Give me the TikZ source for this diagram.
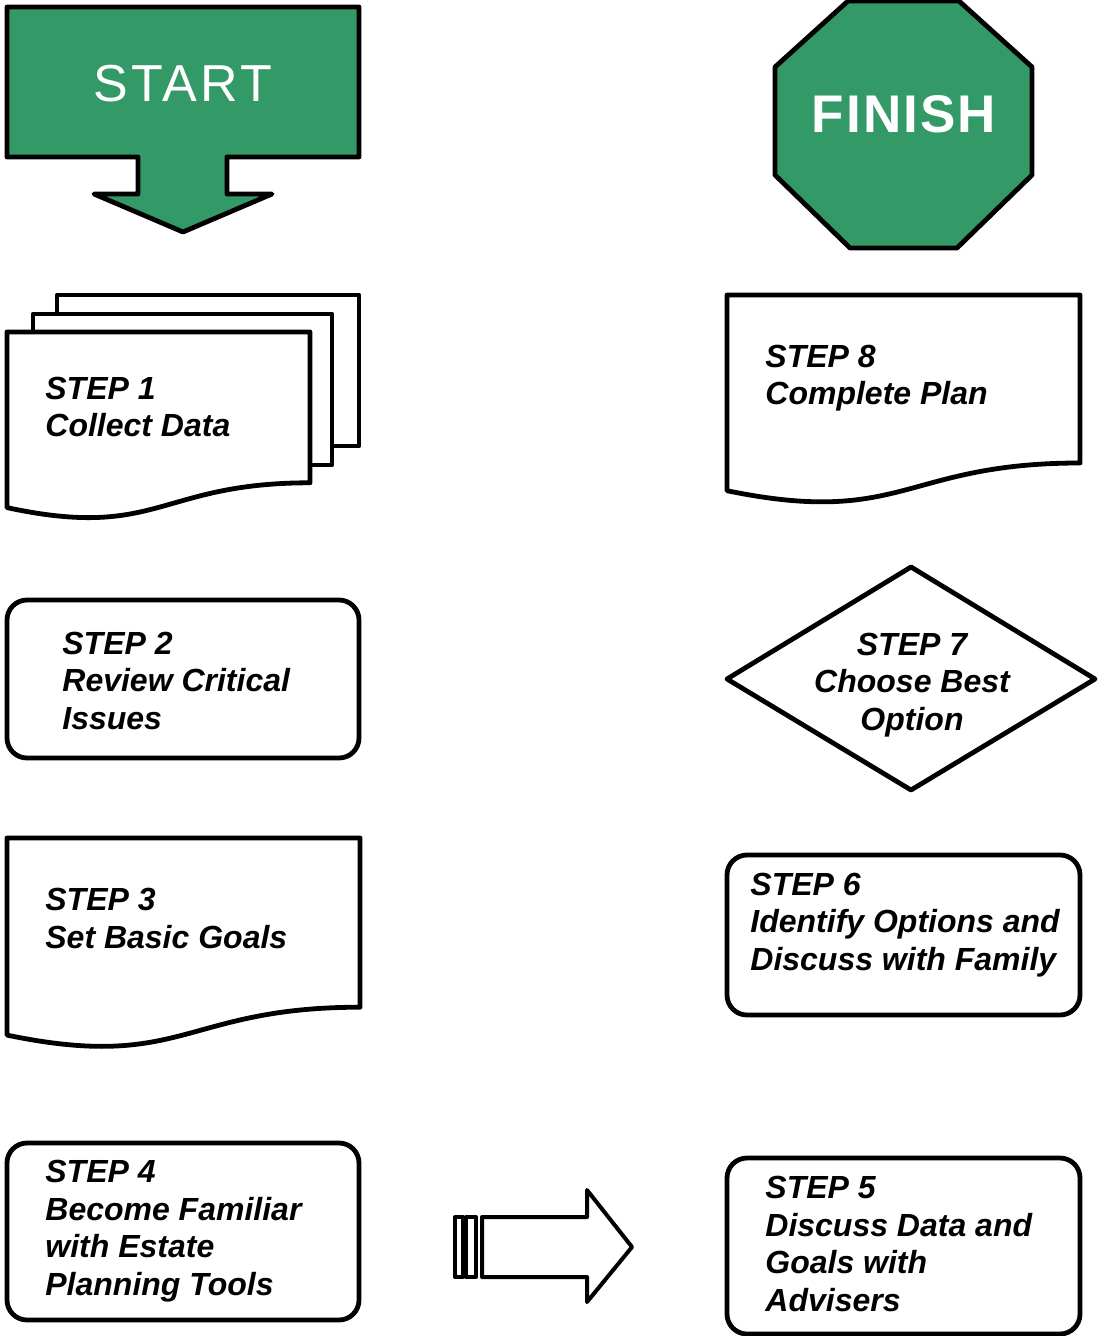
\documentclass[tikz,border=0pt]{standalone}
\usepackage{fontspec}
\setmainfont{Liberation Sans}
\definecolor{stepgreen}{RGB}{51,153,102}
\begin{document}
\begin{tikzpicture}[x=0.5pt,y=-0.5pt,
  outline/.style={draw=black,line width=2.4pt,line join=round,fill=white},
  greenshape/.style={draw=black,line width=2.4pt,line join=round,fill=stepgreen},
  roundbox/.style={outline,rounded corners=10pt},
  steptext/.style={font=\fontsize{16}{18.75}\selectfont\bfseries\itshape,align=left,inner sep=0pt,anchor=base west},
  steptextc/.style={steptext,align=center,anchor=base}]
\useasboundingbox (0,0) rectangle (1097,1336);

% START arrow
\draw[greenshape] (7,7) -- (359,7) -- (359,157) -- (227,157) -- (227,194) -- (272,194)
  -- (183,232) -- (94,194) -- (138,194) -- (138,157) -- (7,157) -- cycle;
\node[text=white,font=\fontsize{26}{30}\selectfont\addfontfeatures{LetterSpace=6},inner sep=0pt,anchor=base] (start) at (183,102) {START};

% FINISH octagon
\draw[greenshape] (848,1) -- (959,1) -- (1032,67) -- (1032,175) -- (957,248) -- (850,248)
  -- (775,175) -- (775,67) -- cycle;
\node[text=white,font=\fontsize{26.5}{30}\selectfont\bfseries\addfontfeatures{LetterSpace=4},inner sep=0pt,anchor=base] (finish) at (904,133) {FINISH};

% STEP 1 multi-document
\draw[outline] (57,295) rectangle (359,446);
\draw[outline] (33,314) rectangle (332,465);
\draw[outline] (7,332) -- (310,332) -- (310,482.8)
  .. controls (158.5,482.8) and (158.5,540.2) .. (7,507.6) -- cycle;
\node[steptext] (s1) at (45,437) {STEP 1\\Collect Data};

% STEP 2
\draw[roundbox] (7,600) rectangle (359,758);
\node[steptext] (s2) at (62,729) {STEP 2\\Review Critical\\Issues};

% STEP 3 document
\draw[outline] (7,838) -- (360,838) -- (360,1007.2)
  .. controls (183.5,1007.2) and (183.5,1071.7) .. (7,1035.1) -- cycle;
\node[steptext] (s3) at (45,948) {STEP 3\\Set Basic Goals};

% STEP 4
\draw[roundbox] (7,1143) rectangle (359,1320);
\node[steptext] (s4) at (45,1295) {STEP 4\\Become Familiar\\with Estate\\Planning Tools};

% striped arrow
\draw[outline,line width=2pt] (455,1217) rectangle (463,1277);
\draw[outline,line width=2pt] (466,1217) rectangle (476,1277);
\draw[outline,line width=2pt] (482,1217) -- (587,1217) -- (587,1190) -- (632,1247)
  -- (587,1302) -- (587,1277) -- (482,1277) -- cycle;

% STEP 5
\draw[roundbox] (727,1158) rectangle (1080,1334);
\node[steptext] (s5) at (765,1311) {STEP 5\\Discuss Data and\\Goals with\\Advisers};

% STEP 6
\draw[roundbox] (727,855) rectangle (1080,1015);
\node[steptext] (s6) at (750,970) {STEP 6\\Identify Options and\\Discuss with Family};

% STEP 7 diamond
\draw[outline] (911,567) -- (1095,679) -- (911,790) -- (727,679) -- cycle;
\node[steptextc] (s7) at (912,730) {STEP 7\\Choose Best\\Option};

% STEP 8 document
\draw[outline] (727,295) -- (1080,295) -- (1080,463)
  .. controls (903.5,463) and (903.5,527) .. (727,490.7) -- cycle;
\node[steptext] (s8) at (765,405) {STEP 8\\Complete Plan};
\end{tikzpicture}
\end{document}
